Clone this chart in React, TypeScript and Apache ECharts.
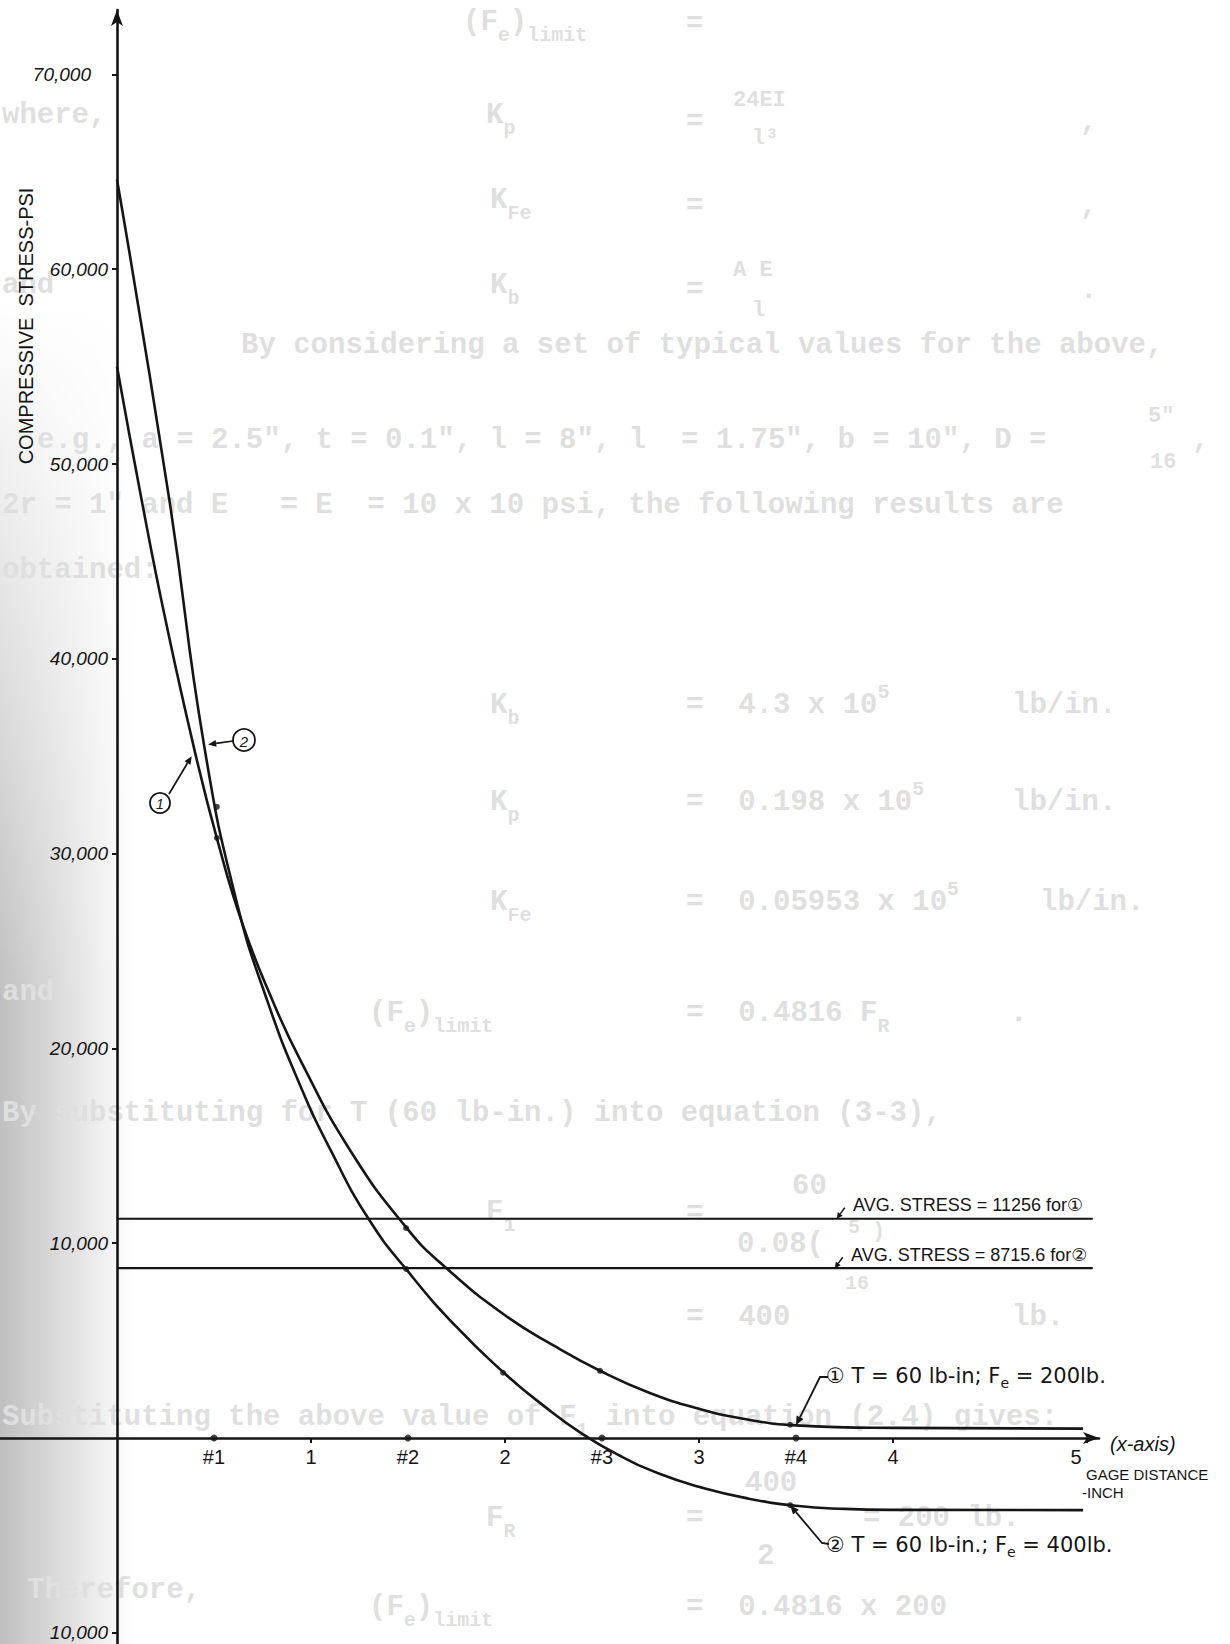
import React, { useEffect, useRef } from "react";
import * as echarts from "echarts";

// ---- data ----
const curve1X = [0, 0.13, 0.25, 0.4, 0.52, 0.65, 0.8, 0.94, 1.2, 1.5, 1.7, 2.0, 2.25, 2.5, 2.75, 3.0, 3.25, 3.5, 4.0, 4.98];
const curve1Y = [55000, 48000, 42000, 35300, 30600, 26300, 22500, 19500, 14800, 10700, 8700, 6300, 4750, 3400, 2300, 1500, 950, 650, 520, 480];
const curve2X = [0, 0.27, 0.45, 0.62, 0.78, 0.94, 1.1, 1.3, 1.5, 1.75, 2.0, 2.2, 2.4, 2.6, 2.8, 3.0, 3.25, 3.5, 3.75, 4.0, 4.98];
const curve2Y = [64600, 48150, 35500, 27400, 22300, 18200, 14800, 11200, 8550, 5700, 3300, 1650, 200, -950, -1850, -2500, -3100, -3480, -3640, -3690, -3700];
const avgStress1 = 11256;
const avgStress2 = 8715.6;
const avgLineX = [0, 5.03];
const gageX = [0.5, 1.5, 2.5, 3.5];
const curve1MarkX = [0.515, 1.49, 2.49, 3.47];
const curve1MarkY = [30800, 10780, 3450, 680];
const curve2MarkX = [0.515, 1.49, 1.99, 3.47];
const curve2MarkY = [32400, 8680, 3350, -3450];
const xLabelValues = [0.5, 1, 1.5, 2, 2.5, 3, 3.5, 4, 5];
const xLabelTexts = ["#1", "1", "#2", "2", "#3", "3", "#4", "4", "5"];
const xTickValues = [1, 2, 3, 4, 5];
const yTickValues = [-10000, 10000, 20000, 30000, 40000, 50000, 60000, 70000];
const yTickLabels = ["10,000", "10,000", "20,000", "30,000", "40,000", "50,000", "60,000", "70,000"];

// faint show-through text of the scanned page: [x, y, text, size]  ({s|..} subscript, {u|..} superscript)
const ghostLines: [number, number, string, number][] = [
  [463, 22, "(F{s|e}){s|limit}", 29], [686, 24, "=", 29],
  [2, 115, "where,", 29], [486, 115, "K{s|p}", 29], [686, 122, "=", 29],
  [733, 100, "24EI", 22], [752, 138, "l\u00b3", 22], [1080, 122, ",", 29],
  [490, 200, "K{s|Fe}", 29], [686, 206, "=", 29], [1080, 206, ",", 29],
  [2, 285, "and", 29], [490, 285, "K{s|b}", 29], [686, 290, "=", 29],
  [733, 270, "A E", 22], [752, 310, "l", 22], [1080, 290, ".", 29],
  [241, 345, "By considering a set of typical values for the above,", 29],
  [37, 440, "e.g., a = 2.5\", t = 0.1\", l = 8\", l  = 1.75\", b = 10\", D =", 29],
  [1148, 416, "5\"", 22], [1150, 462, "16", 22], [1192, 440, ",", 29],
  [2, 505, "2r = 1\" and E   = E  = 10 x 10 psi, the following results are", 29],
  [2, 570, "obtained:", 29],
  [490, 705, "K{s|b}", 29], [686, 705, "=  4.3 x 10{u|5}", 29], [1012, 705, "lb/in.", 29],
  [490, 802, "K{s|p}", 29], [686, 802, "=  0.198 x 10{u|5}", 29], [1012, 802, "lb/in.", 29],
  [490, 902, "K{s|Fe}", 29], [686, 902, "=  0.05953 x 10{u|5}", 29], [1040, 902, "lb/in.", 29],
  [2, 992, "and", 29], [369, 1013, "(F{s|e}){s|limit}", 29],
  [686, 1013, "=  0.4816 F{s|R}", 29], [1010, 1013, ".", 29],
  [2, 1113, "By substituting for T (60 lb-in.) into equation (3-3),", 29],
  [792, 1186, "60", 29], [486, 1212, "F{s|1}", 29], [686, 1213, "=", 29],
  [737, 1244, "0.08(", 29], [848, 1227, "5", 20], [845, 1283, "16", 20], [872, 1231, ")", 22],
  [686, 1317, "=  400", 29], [1012, 1317, "lb.", 29],
  [2, 1417, "Substituting the above value of F{s|1} into equation (2.4) gives:", 29],
  [745, 1483, "400", 29], [486, 1518, "F{s|R}", 29], [686, 1518, "=", 29],
  [863, 1518, "= 200 lb.", 29], [757, 1556, "2", 29],
  [27, 1590, "Therefore,", 29], [369, 1607, "(F{s|e}){s|limit}", 29],
  [686, 1607, "=  0.4816 x 200", 29],
];

const INK = "#151515";
const GHOST = "#dfdfdf";
const FONT = "'Liberation Sans', 'DejaVu Sans', 'Noto Sans CJK SC', sans-serif";
const WIDE = "'DejaVu Sans', 'Noto Sans CJK SC', sans-serif";
const MONO = "'Liberation Mono', 'DejaVu Sans Mono', monospace";

function pairs(xs: number[], ys: number[]) {
  return xs.map((x, i) => [x, ys[i]]);
}

function arrow(points: number[][], headLen = 9, headW = 3.8, lw = 1.7): any[] {
  const n = points.length;
  const [tx, ty] = points[n - 1];
  const [sx, sy] = points[n - 2];
  const ang = Math.atan2(ty - sy, tx - sx);
  const bx = tx - headLen * Math.cos(ang);
  const by = ty - headLen * Math.sin(ang);
  const nx = -Math.sin(ang) * headW;
  const ny = Math.cos(ang) * headW;
  return [
    {
      type: "polyline",
      silent: true,
      shape: { points: [...points.slice(0, -1), [bx, by]] },
      style: { stroke: INK, lineWidth: lw, fill: null },
    },
    {
      type: "polygon",
      silent: true,
      shape: { points: [[tx, ty], [bx + nx, by + ny], [bx - nx, by - ny]] },
      style: { fill: INK },
    },
  ];
}

export default function App() {
  const ref = useRef<HTMLDivElement>(null);

  useEffect(() => {
    const el = ref.current!;
    const chart = echarts.init(el, null, { renderer: "svg" });

    const lineStyle = { color: INK, width: 2.6 };
    const option: any = {
      animation: false,
      backgroundColor: "#ffffff",
      grid: { left: 0, right: 131, top: 10, bottom: 0, containLabel: false, outerBoundsMode: "none" },
      xAxis: {
        type: "value",
        min: -0.603,
        max: 5.062,
        splitLine: { show: false },
        axisLine: {
          onZero: true,
          symbol: ["none", "arrow"],
          symbolSize: [9, 16],
          lineStyle: { color: INK, width: 2.6 },
        },
        axisTick: { show: true, customValues: xTickValues, length: 5, lineStyle: { color: INK, width: 2 } },
        axisLabel: { show: false },
      },
      yAxis: {
        type: "value",
        min: -10575,
        max: 73306,
        splitLine: { show: false },
        axisLine: {
          onZero: true,
          symbol: ["none", "arrow"],
          symbolSize: [9, 16],
          lineStyle: { color: INK, width: 2.6 },
        },
        axisTick: { show: true, customValues: yTickValues, length: 5, lineStyle: { color: INK, width: 2 } },
        axisLabel: { show: false },
      },
      series: [
        {
          name: "curve1",
          type: "line",
          data: pairs(curve1X, curve1Y),
          smooth: 0.5,
          showSymbol: false,
          lineStyle,
          z: 3,
        },
        {
          name: "curve2",
          type: "line",
          data: pairs(curve2X, curve2Y),
          smooth: 0.5,
          showSymbol: false,
          lineStyle,
          z: 3,
        },
        {
          name: "avg1",
          type: "line",
          data: avgLineX.map((x) => [x, avgStress1]),
          showSymbol: false,
          lineStyle: { color: INK, width: 2.2 },
        },
        {
          name: "avg2",
          type: "line",
          data: avgLineX.map((x) => [x, avgStress2]),
          showSymbol: false,
          lineStyle: { color: INK, width: 2.2 },
        },
        {
          name: "gages",
          type: "scatter",
          data: gageX.map((x) => [x, 0]),
          symbol: "circle",
          symbolSize: 7,
          itemStyle: { color: INK },
          z: 4,
        },
        {
          name: "marks1",
          type: "scatter",
          data: pairs(curve1MarkX, curve1MarkY),
          symbol: "circle",
          symbolSize: 6,
          itemStyle: { color: INK },
          z: 4,
        },
        {
          name: "marks2",
          type: "scatter",
          data: pairs(curve2MarkX, curve2MarkY),
          symbol: "circle",
          symbolSize: 6,
          itemStyle: { color: INK },
          z: 4,
        },
      ],
    };
    chart.setOption(option);

    const P = (x: number, y: number) => chart.convertToPixel({ gridIndex: 0 }, [x, y]) as number[];

    const g: any[] = [];
    // scanner shading along the left edge
    g.push({
      type: "rect",
      z: -10,
      silent: true,
      shape: { x: 0, y: 300, width: 135, height: 1344 },
      style: {
        fill: new echarts.graphic.LinearGradient(0, 0, 1, 0, [
          { offset: 0, color: "rgba(0,0,0,0.25)" },
          { offset: 1, color: "rgba(0,0,0,0)" },
        ]),
      },
    });
    g.push({
      type: "rect",
      z: -9,
      silent: true,
      shape: { x: 0, y: 300, width: 135, height: 700 },
      style: {
        fill: new echarts.graphic.LinearGradient(0, 0, 0, 1, [
          { offset: 0, color: "rgba(255,255,255,1)" },
          { offset: 1, color: "rgba(255,255,255,0)" },
        ]),
      },
    });
    // show-through typewritten text
    ghostLines.forEach(([x, y, t, s]) => {
      g.push({
        type: "text",
        z: -8,
        silent: true,
        x,
        y,
        style: {
          text: t,
          fontSize: s,
          lineHeight: 46,
          fontFamily: MONO,
          fontWeight: "bold",
          fill: GHOST,
          align: "left",
          verticalAlign: "middle",
          rich: {
            s: { fontSize: 20, lineHeight: 20, fontFamily: MONO, fontWeight: "bold", fill: GHOST, verticalAlign: "bottom" },
            u: { fontSize: 20, lineHeight: 20, fontFamily: MONO, fontWeight: "bold", fill: GHOST, verticalAlign: "top" },
          },
        },
      });
    });

    // tick labels placed with the chart's own scale
    yTickValues.forEach((v, i) => {
      const [x0, y0] = P(0, v);
      g.push({
        type: "text",
        x: x0 - (v === 70000 ? 26 : 9),
        y: y0,
        style: {
          text: yTickLabels[i],
          fontSize: 19,
          fontStyle: "italic",
          fontFamily: FONT,
          fill: INK,
          align: "right",
          verticalAlign: "middle",
        },
      });
    });
    xLabelValues.forEach((v, i) => {
      const [x0, y0] = P(v, 0);
      g.push({
        type: "text",
        x: x0 + (v === 5 ? -11 : 0),
        y: y0 + 9,
        style: {
          text: xLabelTexts[i],
          fontSize: 20,
          fontFamily: FONT,
          fill: INK,
          align: "center",
          verticalAlign: "top",
        },
      });
    });

    // y-axis title
    g.push({
      type: "text",
      x: 26,
      y: 326,
      rotation: Math.PI / 2,
      style: {
        text: "COMPRESSIVE  STRESS-PSI",
        fontSize: 20,
        fontFamily: FONT,
        fill: INK,
        align: "center",
        verticalAlign: "middle",
      },
    });

    // upper curve callouts
    const circ = (cx: number, cy: number, r: number, d: string, fs: number) => [
      { type: "circle", shape: { cx, cy, r }, style: { fill: "none", stroke: INK, lineWidth: 1.8 } },
      {
        type: "text",
        x: cx,
        y: cy + 1,
        style: { text: d, fontSize: fs, fontFamily: FONT, fontStyle: "italic", fill: INK, align: "center", verticalAlign: "middle" },
      },
    ];
    g.push(...circ(160, 803, 10, "1", 14));
    g.push(...arrow([[169, 794], P(0.385, 35000)], 8, 3.5, 1.7));
    g.push(...circ(244, 740, 11, "2", 15));
    g.push(...arrow([[233, 741], P(0.47, 35600)], 8, 3.5, 1.7));

    // average-stress labels
    const t1 = P(3.71, avgStress1);
    const t2 = P(3.7, avgStress2);
    g.push(...arrow([[t1[0] + 8, t1[1] - 11], t1], 6, 3, 1.5));
    g.push(...arrow([[t2[0] + 8, t2[1] - 11], t2], 6, 3, 1.5));
    g.push({
      type: "text",
      x: 853,
      y: 1205,
      style: { text: "AVG. STRESS = 11256 for\u2460", fontSize: 18, fontFamily: FONT, fill: INK, align: "left", verticalAlign: "middle" },
    });
    g.push({
      type: "text",
      x: 851,
      y: 1255,
      style: { text: "AVG. STRESS = 8715.6 for\u2461", fontSize: 18, fontFamily: FONT, fill: INK, align: "left", verticalAlign: "middle" },
    });

    // bottom callouts
    const sub = { fontSize: 14, fontFamily: WIDE, fill: INK, verticalAlign: "bottom", lineHeight: 14 };
    const b1 = P(3.5, 650);
    g.push(...arrow([[828, 1377], [820, 1377], b1], 9, 3.8, 1.8));
    g.push({
      type: "text",
      x: 826,
      y: 1376,
      style: {
        text: "\u2460 T = 60 lb-in; F{s|e} = 200lb.",
        fontSize: 21,
        lineHeight: 28,
        fontFamily: WIDE,
        fill: INK,
        align: "left",
        verticalAlign: "middle",
        rich: { s: sub },
      },
    });
    const b2 = P(3.47, -3450);
    g.push(...arrow([[829, 1544], [822, 1543], b2], 9, 3.8, 1.8));
    g.push({
      type: "text",
      x: 826,
      y: 1545,
      style: {
        text: "\u2461 T = 60 lb-in.; F{s|e} = 400lb.",
        fontSize: 21,
        lineHeight: 28,
        fontFamily: WIDE,
        fill: INK,
        align: "left",
        verticalAlign: "middle",
        rich: { s: sub },
      },
    });

    // x-axis captions
    g.push({
      type: "text",
      x: 1110,
      y: 1444,
      style: { text: "(x-axis)", fontSize: 20, fontFamily: FONT, fontStyle: "italic", fill: INK, align: "left", verticalAlign: "middle" },
    });
    g.push({
      type: "text",
      x: 1086,
      y: 1474,
      style: { text: "GAGE DISTANCE", fontSize: 15, fontFamily: FONT, fill: INK, align: "left", verticalAlign: "middle" },
    });
    g.push({
      type: "text",
      x: 1082,
      y: 1492,
      style: { text: "-INCH", fontSize: 15, fontFamily: FONT, fill: INK, align: "left", verticalAlign: "middle" },
    });

    chart.setOption({ graphic: { elements: g } });

    return () => chart.dispose();
  }, []);

  return (
    <div
      ref={ref}
      style={{ position: "absolute", left: 0, top: 0, width: 1230, height: 1644, background: "#ffffff" }}
    />
  );
}
